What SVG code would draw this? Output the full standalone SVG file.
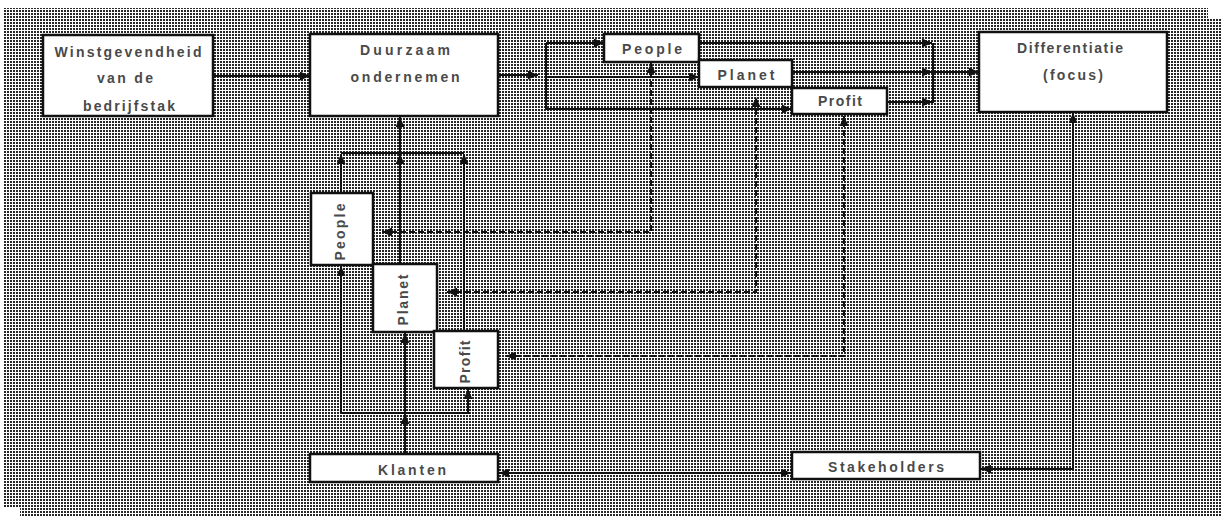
<svg xmlns="http://www.w3.org/2000/svg" width="1221" height="517" viewBox="0 0 1221 517">
  <style>
    .box { fill: #ffffff; stroke: #111111; stroke-width: 2.5; }
    .lbl { font-family: "Liberation Sans", Arial, sans-serif; font-size: 14px; font-weight: bold; fill: #4a4a4a; text-anchor: middle; }
    .wire { fill: none; stroke: #111111; stroke-width: 2; }
    .dash { fill: none; stroke: #111111; stroke-width: 2; stroke-dasharray: 6 3; }
    .end { marker-end: url(#arrow); }
    .both { marker-start: url(#arrow); marker-end: url(#arrow); }
  </style>
  <defs>
    <!-- fine halftone used for the sheet background -->
    <pattern id="dither" width="3" height="3" patternUnits="userSpaceOnUse">
      <rect width="3" height="3" fill="#ffffff"/>
      <rect x="1" y="1" width="2" height="2" fill="#262626"/>
    </pattern>
    <marker id="arrow" markerUnits="userSpaceOnUse" markerWidth="10" markerHeight="9" refX="10" refY="4.5" orient="auto-start-reverse">
      <path d="M0,0 L10,4.5 L0,9 z" fill="#111111"/>
    </marker>
  </defs>

  <rect width="1221" height="517" fill="#ffffff"/>
  <polygon points="4,8 1208,8 1208,18 1221,18 1221,517 20,517 20,508 4,508" fill="url(#dither)"/>

  <!-- connectors -->
  <g id="connectors">
    <path class="wire end" d="M213,76 H310"/>
    <path class="wire end" d="M498,75 H538"/>
    <path class="wire" d="M546,43 V109"/>
    <path class="wire end" d="M546,43 H604"/>
    <path class="wire end" d="M546,77 H699"/>
    <path class="wire end" d="M546,109 H792"/>

    <path class="wire end" d="M699,43 H932"/>
    <path class="wire end" d="M792,72 H932"/>
    <path class="wire end" d="M887,102 H932"/>
    <path class="wire" d="M933,43 V103"/>
    <path class="wire end" d="M933,72 H979"/>

    <path class="wire end" d="M400,153 V117"/>
    <path class="wire" d="M341,153 H464"/>
    <path class="wire end" d="M341,193 V154"/>
    <path class="wire end" d="M400,264 V154"/>
    <path class="wire end" d="M464,331 V154"/>

    <path class="wire end" d="M405,454 V414"/>
    <path class="wire" d="M341,413 H470"/>
    <path class="wire end" d="M341,413 V266"/>
    <path class="wire end" d="M405,413 V333"/>
    <path class="wire end" d="M468,413 V389"/>

    <path class="dash both" d="M382,232 H651 V63"/>
    <path class="dash both" d="M447,292 H756 V97"/>
    <path class="dash both" d="M506,356 H844 V116"/>

    <path class="wire both" d="M499,473 H791"/>
    <path class="wire both" d="M981,469 H1073 V113"/>
  </g>

  <g id="winstgevendheid">
    <rect class="box" x="43" y="35" width="170" height="81"/>
    <text class="lbl" x="128" y="57" textLength="147" lengthAdjust="spacing">Winstgevendheid</text>
    <text class="lbl" x="125" y="83" textLength="56" lengthAdjust="spacing">van de</text>
    <text class="lbl" x="129" y="111" textLength="92" lengthAdjust="spacing">bedrijfstak</text>
  </g>

  <g id="duurzaam">
    <rect class="box" x="310" y="34" width="188" height="82"/>
    <text class="lbl" x="405" y="55" textLength="90" lengthAdjust="spacing">Duurzaam</text>
    <text class="lbl" x="405" y="82" textLength="109" lengthAdjust="spacing">ondernemen</text>
  </g>

  <g id="people-top">
    <rect class="box" x="604" y="34" width="95" height="28"/>
    <text class="lbl" x="652" y="54" textLength="60" lengthAdjust="spacing">People</text>
  </g>

  <g id="planet-top">
    <rect class="box" x="699" y="60" width="93" height="27"/>
    <text class="lbl" x="746" y="80" textLength="57" lengthAdjust="spacing">Planet</text>
  </g>

  <g id="profit-top">
    <rect class="box" x="792" y="88" width="95" height="26"/>
    <text class="lbl" x="840" y="106" textLength="44" lengthAdjust="spacing">Profit</text>
  </g>

  <g id="differentiatie">
    <rect class="box" x="979" y="32" width="188" height="80"/>
    <text class="lbl" x="1070" y="53" textLength="106" lengthAdjust="spacing">Differentiatie</text>
    <text class="lbl" x="1073" y="80" textLength="60" lengthAdjust="spacing">(focus)</text>
  </g>

  <g id="people-side">
    <rect class="box" x="311" y="193" width="62" height="72"/>
    <text class="lbl" transform="translate(340,232) rotate(-90)" x="0" y="5" textLength="57" lengthAdjust="spacing">People</text>
  </g>

  <g id="planet-side">
    <rect class="box" x="373" y="264" width="64" height="68"/>
    <text class="lbl" transform="translate(403,300) rotate(-90)" x="0" y="5" textLength="51" lengthAdjust="spacing">Planet</text>
  </g>

  <g id="profit-side">
    <rect class="box" x="434" y="331" width="64" height="57"/>
    <text class="lbl" transform="translate(465,362) rotate(-90)" x="0" y="5" textLength="43" lengthAdjust="spacing">Profit</text>
  </g>

  <g id="klanten">
    <rect class="box" x="310" y="454" width="188" height="28"/>
    <text class="lbl" x="412" y="475" textLength="68" lengthAdjust="spacing">Klanten</text>
  </g>

  <g id="stakeholders">
    <rect class="box" x="792" y="452" width="188" height="27"/>
    <text class="lbl" x="886" y="472" textLength="116" lengthAdjust="spacing">Stakeholders</text>
  </g>
</svg>
